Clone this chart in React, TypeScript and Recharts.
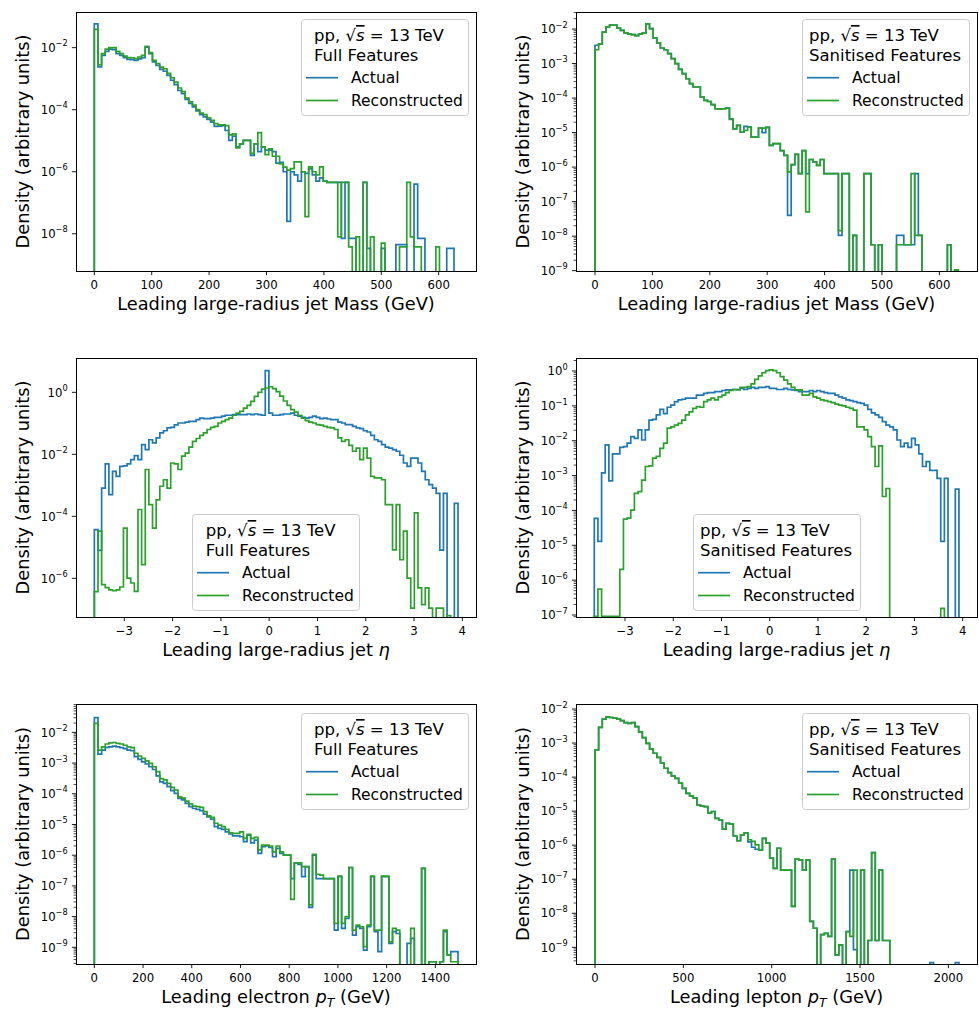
import React from 'react';
import { LineChart, Line, XAxis, YAxis } from 'recharts';

const BLUE = '#1f77b4';
const GREEN = '#2ca02c';
const FONT = '"DejaVu Sans", sans-serif';
const N = null;

// log10(density) per bin, null = empty bin
const massFullActual = [
  -1.23, -2.62, -2.25, -2.12, -2.05, -2.06, -2.19, -2.25, -2.32, -2.38,
  -2.39, -2.41, -2.36, -2.32, -1.98, -2.19, -2.46, -2.57, -2.7, -2.76,
  -2.89, -3.05, -3.19, -3.38, -3.48, -3.67, -3.8, -3.91, -4.04, -4.16,
  -4.23, -4.31, -4.4, -4.54, -4.53, -4.51, -4.67, -4.99, -4.85, -5.2,
  -5.1, -4.99, -4.99, -5.47, -5.1, -5.35, -5.2, -5.3, -5.3, -5.35,
  -5.72, -5.7, -6.0, -7.6, -6.0, -6.1, -6.3, -6.0, -6.05, -5.9,
  -6.1, -6.3, -6.2, -6.3, -6.34, -6.34, -6.34, -6.34, -8.15, -6.34,
  -8.15, -8.15, N, N, -6.34, -8.47, N, N, N, -8.47,
  N, N, N, -8.35, -8.35, -8.35, N, N, -6.4, -8.15,
  -8.15, N, N, N, N, N, N, -8.47, -8.47, -9.3,
];
const massFullRecon = [
  -1.41, -2.55, -2.19, -2.05, -2.0, -2.0, -2.12, -2.19, -2.27, -2.32,
  -2.33, -2.35, -2.3, -2.25, -1.96, -2.16, -2.41, -2.51, -2.63, -2.68,
  -2.83, -2.97, -3.11, -3.3, -3.42, -3.62, -3.75, -3.85, -4.0, -4.11,
  -4.16, -4.26, -4.34, -4.45, -4.49, -4.49, -4.51, -4.81, -4.78, -5.23,
  -5.1, -4.99, -4.99, -5.41, -5.1, -4.74, -5.2, -5.45, -5.26, -5.5,
  -5.5, -5.75, -5.85, -5.95, -5.9, -5.68, -5.68, -6.0, -7.45, -5.84,
  -6.0, -6.1, -5.84, -6.3, -6.34, -6.34, -6.34, -8.1, -6.34, -6.34,
  -8.42, N, -8.1, N, -6.34, N, -8.1, N, N, -8.3,
  N, N, N, N, -8.42, -8.42, -6.34, -8.1, -8.42, -8.42,
  N, N, N, N, -8.42, N, N, N, N, N,
];
const massSanActual = [
  -2.47, -2.43, -2.09, -1.94, -1.89, -1.89, -1.97, -2.04, -2.11, -2.15,
  -2.16, -2.19, -2.15, -2.12, -1.85, -1.99, -2.26, -2.4, -2.55, -2.6,
  -2.71, -2.86, -3.0, -3.17, -3.29, -3.44, -3.58, -3.68, -3.68, -3.97,
  -4.07, -4.1, -4.19, -4.31, -4.32, -4.31, -4.29, -4.62, -4.89, -4.79,
  -4.99, -4.82, -4.84, -5.13, -5.13, -4.87, -5.0, -4.85, -5.37, -5.32,
  -5.32, -5.52, -5.66, -7.4, -5.93, -5.63, -6.19, -5.52, -6.19, -5.78,
  -5.85, -5.95, -5.78, -6.19, -6.19, -6.19, -6.19, -7.98, -6.19, -6.19,
  N, -7.98, N, N, -6.19, -6.19, -8.25, N, -8.25, N,
  N, N, N, -7.98, -7.98, -8.25, -8.25, -8.25, -6.19, -7.98,
  N, N, N, N, N, N, N, -8.25, N, -8.98,
];
const massSanRecon = [
  -2.6, -2.43, -2.09, -1.94, -1.89, -1.89, -1.97, -2.04, -2.11, -2.15,
  -2.16, -2.19, -2.15, -2.12, -1.85, -1.99, -2.26, -2.4, -2.55, -2.6,
  -2.71, -2.86, -3.0, -3.17, -3.29, -3.44, -3.58, -3.68, -3.68, -3.97,
  -4.07, -4.1, -4.19, -4.31, -4.32, -4.31, -4.29, -4.6, -4.89, -4.79,
  -4.99, -4.94, -4.84, -5.13, -5.13, -4.87, -4.87, -4.85, -5.37, -5.32,
  -5.32, -5.52, -5.66, -6.14, -5.93, -5.63, -6.19, -5.52, -7.3, -5.78,
  -5.85, -5.95, -5.78, -6.19, -6.19, -6.19, -6.19, -7.84, -6.19, -6.19,
  N, -7.98, N, N, -6.19, -6.19, -8.25, N, -8.25, N,
  N, N, N, -8.25, -8.25, -8.25, -8.25, -6.19, -7.98, -7.98,
  N, N, N, N, N, N, N, -8.25, N, -8.98,
];
const etaFullActual = [
  -4.43, -5.1, -3.09, -2.31, -3.3, -2.55, -2.71, -2.39, -2.37, -2.31,
  -2.17, -2.04, -2.17, -1.69, -1.85, -1.53, -1.63, -1.47, -1.31, -1.24,
  -1.15, -1.13, -1.05, -0.99, -0.99, -0.96, -0.94, -0.94, -0.88, -0.83,
  -0.85, -0.85, -0.83, -0.81, -0.81, -0.77, -0.74, -0.74, -0.72, -0.72,
  -0.72, -0.72, -0.7, -0.72, -0.7, -0.72, -0.74, 0.7, -0.67, -0.74,
  -0.74, -0.72, -0.7, -0.7, -0.67, -0.74, -0.77, -0.81, -0.83, -0.81,
  -0.77, -0.81, -0.85, -0.83, -0.86, -0.88, -0.88, -0.96, -0.99, -1.04,
  -1.04, -1.1, -1.15, -1.17, -1.24, -1.28, -1.39, -1.53, -1.58, -1.69,
  -1.77, -1.8, -1.85, -1.9, -2.03, -2.28, -2.39, -2.12, -2.12, -2.28,
  -2.55, -2.82, -2.98, -3.09, -3.26, -5.09, -3.26, N, N, -3.58,
];
const etaFullRecon = [
  -6.43, -4.48, -6.2, -6.3, -6.37, -6.4, -6.37, -6.28, -4.38, -5.99,
  -6.15, -6.42, -3.78, -5.56, -2.49, -3.62, -4.38, -3.47, -3.03, -2.82,
  -3.09, -2.28, -2.31, -2.49, -2.06, -1.96, -1.77, -1.58, -1.49, -1.39,
  -1.31, -1.2, -1.13, -1.1, -0.99, -0.94, -0.88, -0.83, -0.74, -0.67,
  -0.61, -0.51, -0.42, -0.29, -0.13, 0.0, 0.1, 0.14, 0.18, 0.12,
  0.02, -0.12, -0.28, -0.42, -0.56, -0.64, -0.74, -0.83, -0.91, -0.96,
  -0.99, -1.04, -1.06, -1.1, -1.13, -1.15, -1.2, -1.47, -1.58, -1.53,
  -1.71, -1.9, -1.8, -2.17, -1.8, -2.12, -2.71, -2.76, -2.76, -2.82,
  -3.62, -3.62, -5.08, -3.62, -5.4, -4.48, -5.99, -6.96, -3.89, -6.31,
  -6.85, -6.31, -6.96, N, -6.96, -6.96, N, -7.2, N, N,
];
const etaSanActual = [
  -4.23, -4.89, -2.92, -2.12, -3.15, -2.38, -2.38, -2.19, -2.17, -2.07,
  -1.88, -1.93, -1.69, -1.98, -1.69, -1.41, -1.39, -1.26, -1.1, -1.22,
  -1.04, -0.98, -0.88, -0.83, -0.81, -0.78, -0.78, -0.78, -0.69, -0.69,
  -0.64, -0.62, -0.62, -0.59, -0.59, -0.56, -0.54, -0.54, -0.53, -0.53,
  -0.5, -0.53, -0.5, -0.47, -0.5, -0.47, -0.47, -0.45, -0.5, -0.5,
  -0.53, -0.53, -0.5, -0.53, -0.54, -0.56, -0.59, -0.59, -0.59, -0.56,
  -0.59, -0.56, -0.59, -0.62, -0.64, -0.64, -0.69, -0.74, -0.78, -0.83,
  -0.85, -0.88, -0.91, -0.93, -0.98, -1.1, -1.2, -1.26, -1.33, -1.45,
  -1.55, -1.6, -1.69, -1.98, -2.17, -2.07, -2.19, -1.93, -2.12, -2.38,
  -2.74, -2.6, -2.85, -2.85, -3.08, -4.89, -3.08, N, N, -3.39,
];
const etaSanRecon = [
  -7.04, -6.26, -7.04, -7.04, -7.04, -7.04, -7.04, -5.69, -4.25, -4.22,
  -3.99, -3.51, -3.46, -3.13, -2.74, -2.72, -2.5, -2.45, -2.22, -2.07,
  -1.64, -1.6, -1.55, -1.5, -1.41, -1.26, -1.17, -1.07, -1.02, -1.04,
  -0.88, -0.83, -0.78, -0.83, -0.74, -0.69, -0.62, -0.56, -0.53, -0.54,
  -0.47, -0.47, -0.45, -0.37, -0.24, -0.14, -0.05, 0.01, 0.03, 0.01,
  -0.05, -0.16, -0.26, -0.37, -0.47, -0.54, -0.54, -0.69, -0.69, -0.64,
  -0.74, -0.78, -0.83, -0.85, -0.88, -0.91, -0.95, -0.98, -1.0, -1.04,
  -1.07, -1.12, -1.6, -1.6, -1.69, -1.88, -2.17, -2.74, -2.15, -3.6,
  -3.37, N, N, N, N, N, N, N, N, N,
  N, N, N, N, N, -6.81, N, N, N, N,
];
const elecFullActual = [
  -1.52, -2.71, -2.58, -2.49, -2.47, -2.45, -2.47, -2.5, -2.53, -2.58,
  -2.6, -2.79, -2.88, -2.96, -3.03, -3.12, -3.21, -3.42, -3.61, -3.66,
  -3.77, -3.9, -3.99, -4.15, -4.2, -4.31, -4.42, -4.48, -4.51, -4.55,
  -4.66, -4.75, -4.83, -5.07, -5.13, -5.16, -5.24, -5.31, -5.37, -5.37,
  -5.4, -5.56, -5.35, -5.6, -5.51, -5.94, -5.72, -5.7, -5.75, -6.05,
  -5.78, -5.94, -6.0, -6.0, -6.76, -6.25, -6.3, -6.7, -6.37, -7.7,
  -6.0, -6.76, -6.76, -6.76, -6.76, -6.76, -8.44, -6.7, -8.38, -8.06,
  -6.4, -8.6, -8.33, -8.38, -9.09, -8.33, -6.7, -8.49, -9.14, -6.7,
  -6.7, -8.87, -8.49, -8.55, N, N, -8.87, -8.71, N, N,
  -6.43, N, -9.47, -9.47, N, -9.47, -8.49, -9.25, -9.14, -9.14,
];
const elecFullRecon = [
  -1.71, -2.58, -2.47, -2.38, -2.34, -2.33, -2.36, -2.38, -2.42, -2.47,
  -2.5, -2.68, -2.77, -2.85, -2.93, -3.01, -3.12, -3.28, -3.51, -3.55,
  -3.66, -3.79, -3.88, -4.1, -4.14, -4.24, -4.33, -4.4, -4.42, -4.44,
  -4.58, -4.72, -4.77, -4.96, -5.02, -5.07, -5.16, -5.27, -5.29, -5.29,
  -5.24, -5.45, -5.32, -5.45, -5.42, -5.83, -5.67, -5.67, -5.7, -5.89,
  -5.7, -5.89, -6.0, -6.0, -7.44, -6.25, -6.25, -6.37, -6.37, -7.62,
  -5.97, -6.62, -6.65, -6.76, -6.76, -6.76, -8.22, -6.68, -8.22, -8.0,
  -6.4, -8.44, -8.28, -8.33, -8.98, -8.28, -6.68, -8.44, -8.44, -6.68,
  -6.68, -8.82, -8.38, -8.44, N, N, N, -8.38, N, N,
  -6.43, N, -9.47, -9.47, N, -9.47, -8.44, -9.25, -9.47, -9.47,
];
const leptonSanActual = [
  -3.2, -2.54, -2.3, -2.23, -2.25, -2.27, -2.3, -2.34, -2.4, -2.42,
  -2.4, -2.52, -2.67, -2.84, -3.01, -3.18, -3.3, -3.42, -3.58, -3.74,
  -3.87, -3.97, -4.04, -4.18, -4.33, -4.48, -4.55, -4.62, -4.82, -4.85,
  -4.87, -5.06, -5.01, -5.21, -5.26, -5.53, -5.36, -5.38, -5.73, -5.87,
  -5.7, -5.64, -5.9, -6.06, -6.12, -6.14, -5.8, -5.94, -6.38, -6.68,
  -6.09, -6.73, -6.73, -6.73, -7.8, -6.41, -6.43, -6.73, -6.44, -8.24,
  -8.44, N, -8.63, -8.59, -8.68, -6.41, -9.22, -8.93, N, -8.54,
  -6.73, -9.07, N, -6.73, N, -8.8, -6.22, -8.8, -6.73, -8.8,
  -8.8, N, N, N, N, N, N, N, N, N,
  N, N, -9.45, N, N, N, N, N, N, -9.45,
];
const leptonSanRecon = [
  -3.2, -2.54, -2.3, -2.23, -2.25, -2.27, -2.3, -2.34, -2.4, -2.42,
  -2.4, -2.52, -2.67, -2.84, -3.01, -3.18, -3.3, -3.42, -3.58, -3.74,
  -3.87, -3.97, -4.04, -4.18, -4.33, -4.48, -4.55, -4.62, -4.82, -4.85,
  -4.87, -5.06, -5.01, -5.21, -5.26, -5.53, -5.36, -5.38, -5.73, -5.87,
  -5.7, -5.64, -5.84, -5.89, -5.99, -6.14, -5.8, -5.94, -6.38, -6.68,
  -6.09, -6.73, -6.73, -6.73, -7.8, -6.41, -6.43, -6.73, -6.44, -8.24,
  -8.44, N, -8.63, -8.59, -8.68, -6.41, -9.22, -8.93, N, -8.54,
  -8.68, -6.73, N, -6.73, N, -8.8, -6.22, -8.8, -6.73, -8.8,
  -8.8, N, N, N, N, N, N, N, N, N,
  N, N, N, N, N, N, N, N, N, N,
];

// bin edges: first edge and width (100 bins each)
const massBins = { lo: 0, width: 6.33 };
const etaFullBins = { lo: -3.62, width: 0.0753 };
const etaSanBins = { lo: -3.637, width: 0.0756 };
const elecBins = { lo: 0, width: 14.93 };
const leptonBins = { lo: 0, width: 20.6 };

const massTicks = [0, 100, 200, 300, 400, 500, 600];
const etaTicks = [-3, -2, -1, 0, 1, 2, 3, 4];
const elecTicks = [0, 200, 400, 600, 800, 1000, 1200, 1400];
const leptonTicks = [0, 500, 1000, 1500, 2000];

const FLOOR = 1e-20;

type Bins = { lo: number; width: number };
type Row = { x: number; a: number; r: number };

function buildRows(bins: Bins, actual: (number | null)[], recon: (number | null)[]): Row[] {
  const dens = (e: number | null) => (e === null ? FLOOR : Math.pow(10, e));
  const rows: Row[] = [{ x: bins.lo, a: FLOOR, r: FLOOR }];
  actual.forEach((e, i) => {
    rows.push({ x: bins.lo + i * bins.width, a: dens(e), r: dens(recon[i]) });
  });
  rows.push({ x: bins.lo + actual.length * bins.width, a: FLOOR, r: FLOOR });
  return rows;
}

function logTicks(majors: number[], lo: number, hi: number, minors: boolean) {
  const out: number[] = majors.map((e) => Math.pow(10, e));
  if (minors) {
    for (let d = Math.floor(lo); d <= Math.ceil(hi); d++) {
      for (let m = 2; m <= 9; m++) {
        const e = d + Math.log10(m);
        if (e > lo && e < hi) out.push(m * Math.pow(10, d));
      }
    }
  }
  return out.sort((p, q) => p - q);
}

const minus = (v: number) => (v < 0 ? '\u2212' + Math.abs(v) : String(v));

function YTick(props: any) {
  const { x, y, payload } = props;
  const e = Math.log10(payload.value);
  const major = Math.abs(e - Math.round(e)) < 1e-6;
  if (!major) {
    return <line x1={x - 2.4} x2={x} y1={y} y2={y} stroke="#000" strokeWidth={0.7} />;
  }
  return (
    <g>
      <line x1={x - 4.1} x2={x} y1={y} y2={y} stroke="#000" strokeWidth={0.9} />
      <text x={x - 8.3} y={y + 4.2} textAnchor="end" fontSize={11.7} fontFamily={FONT} fill="#000">
        10
        <tspan dy={-5.5} fontSize={8.2}>
          {minus(Math.round(e))}
        </tspan>
      </text>
    </g>
  );
}

function XTick(props: any) {
  const { x, y, payload } = props;
  return (
    <g>
      <line x1={x} x2={x} y1={y} y2={y + 4.1} stroke="#000" strokeWidth={0.9} />
      <text x={x} y={y + 17.5} textAnchor="middle" fontSize={11.7} fontFamily={FONT} fill="#000">
        {minus(payload.value)}
      </text>
    </g>
  );
}

function XLabel({ kind }: { kind: string }) {
  if (kind === 'mass') return <>Leading large-radius jet Mass (GeV)</>;
  if (kind === 'eta')
    return (
      <>
        Leading large-radius jet <tspan fontStyle="italic">η</tspan>
      </>
    );
  const what = kind === 'elec' ? 'electron' : 'lepton';
  return (
    <>
      {`Leading ${what} `}
      <tspan fontStyle="italic">p</tspan>
      <tspan fontStyle="italic" fontSize={12.5} dy={4}>
        T
      </tspan>
      <tspan dy={-4}> (GeV)</tspan>
    </>
  );
}

type PanelCfg = {
  plot: { x: number; y: number; w: number; h: number };
  bins: Bins;
  actual: (number | null)[];
  recon: (number | null)[];
  xDomain: [number, number];
  yExp: [number, number];
  xTicks: number[];
  yMajors: number[];
  minors: boolean;
  xLabel: string;
  legend: { x: number; y: number; title: string; dx: number };
};

const panels: PanelCfg[] = [
  {
    plot: { x: 76, y: 12, w: 400, h: 259 },
    bins: massBins, actual: massFullActual, recon: massFullRecon,
    xDomain: [-31.9, 665], yExp: [-9.2, -0.85], xTicks: massTicks,
    yMajors: [-8, -6, -4, -2], minors: false, xLabel: 'mass',
    legend: { x: 301, y: 19, title: 'Full Features', dx: 13 },
  },
  {
    plot: { x: 576, y: 12, w: 401, h: 259 },
    bins: massBins, actual: massSanActual, recon: massSanRecon,
    xDomain: [-33.1, 665.6], yExp: [-9.01, -1.507], xTicks: massTicks,
    yMajors: [-9, -8, -7, -6, -5, -4, -3, -2], minors: true, xLabel: 'mass',
    legend: { x: 802, y: 19, title: 'Sanitised Features', dx: 7 },
  },
  {
    plot: { x: 76, y: 358, w: 400, h: 259 },
    bins: etaFullBins, actual: etaFullActual, recon: etaFullRecon,
    xDomain: [-4.0, 4.283], yExp: [-7.247, 1.107], xTicks: etaTicks,
    yMajors: [-6, -4, -2, 0], minors: false, xLabel: 'eta',
    legend: { x: 192, y: 514, title: 'Full Features', dx: 13.7 },
  },
  {
    plot: { x: 576, y: 358, w: 401, h: 259 },
    bins: etaSanBins, actual: etaSanActual, recon: etaSanRecon,
    xDomain: [-4.016, 4.297], yExp: [-7.057, 0.373], xTicks: etaTicks,
    yMajors: [-7, -6, -5, -4, -3, -2, -1, 0], minors: true, xLabel: 'eta',
    legend: { x: 693, y: 514, title: 'Sanitised Features', dx: 7 },
  },
  {
    plot: { x: 76, y: 704, w: 400, h: 260 },
    bins: elecBins, actual: elecFullActual, recon: elecFullRecon,
    xDomain: [-75.3, 1567], yExp: [-9.543, -1.077], xTicks: elecTicks,
    yMajors: [-9, -8, -7, -6, -5, -4, -3, -2], minors: true, xLabel: 'elec',
    legend: { x: 301, y: 713, title: 'Full Features', dx: 13 },
  },
  {
    plot: { x: 576, y: 704, w: 401, h: 260 },
    bins: leptonBins, actual: leptonSanActual, recon: leptonSanRecon,
    xDomain: [-107.5, 2162], yExp: [-9.49, -1.853], xTicks: leptonTicks,
    yMajors: [-9, -8, -7, -6, -5, -4, -3, -2], minors: true, xLabel: 'lepton',
    legend: { x: 802, y: 713, title: 'Sanitised Features', dx: 7 },
  },
];

const PAD_L = 70;
const PAD_T = 5;
const PAD_B = 30;

function Panel({ cfg }: { cfg: PanelCfg }) {
  const { plot, legend } = cfg;
  const rows = buildRows(cfg.bins, cfg.actual, cfg.recon);
  const yTicks = logTicks(cfg.yMajors, cfg.yExp[0], cfg.yExp[1], cfg.minors);
  return (
    <>
      <div style={{ position: 'absolute', left: plot.x - PAD_L, top: plot.y - PAD_T }}>
        <LineChart
          width={PAD_L + plot.w + 1}
          height={PAD_T + plot.h + PAD_B}
          data={rows}
          margin={{ top: PAD_T, right: 1, bottom: 0, left: 0 }}
        >
          <XAxis
            type="number"
            dataKey="x"
            domain={cfg.xDomain}
            allowDataOverflow
            ticks={cfg.xTicks}
            interval={0}
            tick={(p: any) => <XTick {...p} />}
            tickLine={false}
            axisLine={false}
            tickSize={0}
            tickMargin={0}
            height={PAD_B}
          />
          <YAxis
            type="number"
            scale="log"
            domain={[Math.pow(10, cfg.yExp[0]), Math.pow(10, cfg.yExp[1])]}
            allowDataOverflow
            ticks={yTicks}
            interval={0}
            tick={(p: any) => <YTick {...p} />}
            tickLine={false}
            axisLine={false}
            tickSize={0}
            tickMargin={0}
            width={PAD_L}
          />
          <Line type="stepAfter" dataKey="a" stroke={BLUE} strokeWidth={1.7} dot={false} isAnimationActive={false} />
          <Line type="stepAfter" dataKey="r" stroke={GREEN} strokeWidth={1.7} dot={false} isAnimationActive={false} />
        </LineChart>
      </div>
      <svg
        width={979}
        height={1009}
        style={{ position: 'absolute', left: 0, top: 0, pointerEvents: 'none' }}
        fontFamily={FONT}
      >
        <rect x={plot.x} y={plot.y} width={plot.w} height={plot.h} fill="none" stroke="#000" strokeWidth={1} shapeRendering="crispEdges" />
        <text
          transform={`translate(${plot.x - 47},${plot.y + plot.h / 2}) rotate(-90)`}
          textAnchor="middle"
          fontSize={17.8}
          fill="#000"
        >
          Density (arbitrary units)
        </text>
        <text x={plot.x + plot.w / 2} y={plot.y + plot.h + 38.5} textAnchor="middle" fontSize={17.8} fill="#000">
          <XLabel kind={cfg.xLabel} />
        </text>
        <g transform={`translate(${legend.x},${legend.y})`}>
          <rect x={0.5} y={0.5} width={167} height={96} rx={3} fill="#fff" fillOpacity={0.8} stroke="#cccccc" />
          <text x={legend.dx} y={22} fontSize={16.5} fill="#000">
            pp, √<tspan fontStyle="italic" style={{ textDecoration: 'overline' }}>s</tspan> = 13 TeV
          </text>
          <text x={legend.dx} y={41.5} fontSize={16.5} fill="#000">
            {legend.title}
          </text>
          <line x1={5} x2={37} y1={58.7} y2={58.7} stroke={BLUE} strokeWidth={1.7} />
          <text x={50} y={64} fontSize={15.5} fill="#000">
            Actual
          </text>
          <line x1={5} x2={37} y1={81.5} y2={81.5} stroke={GREEN} strokeWidth={1.7} />
          <text x={50} y={87} fontSize={15.5} fill="#000">
            Reconstructed
          </text>
        </g>
      </svg>
    </>
  );
}

export default function App() {
  return (
    <div
      style={{
        position: 'absolute',
        left: 0,
        top: 0,
        width: 979,
        height: 1009,
        overflow: 'hidden',
        background: '#fff',
        fontFamily: FONT,
      }}
    >
      {panels.map((cfg, i) => (
        <Panel key={i} cfg={cfg} />
      ))}
    </div>
  );
}
